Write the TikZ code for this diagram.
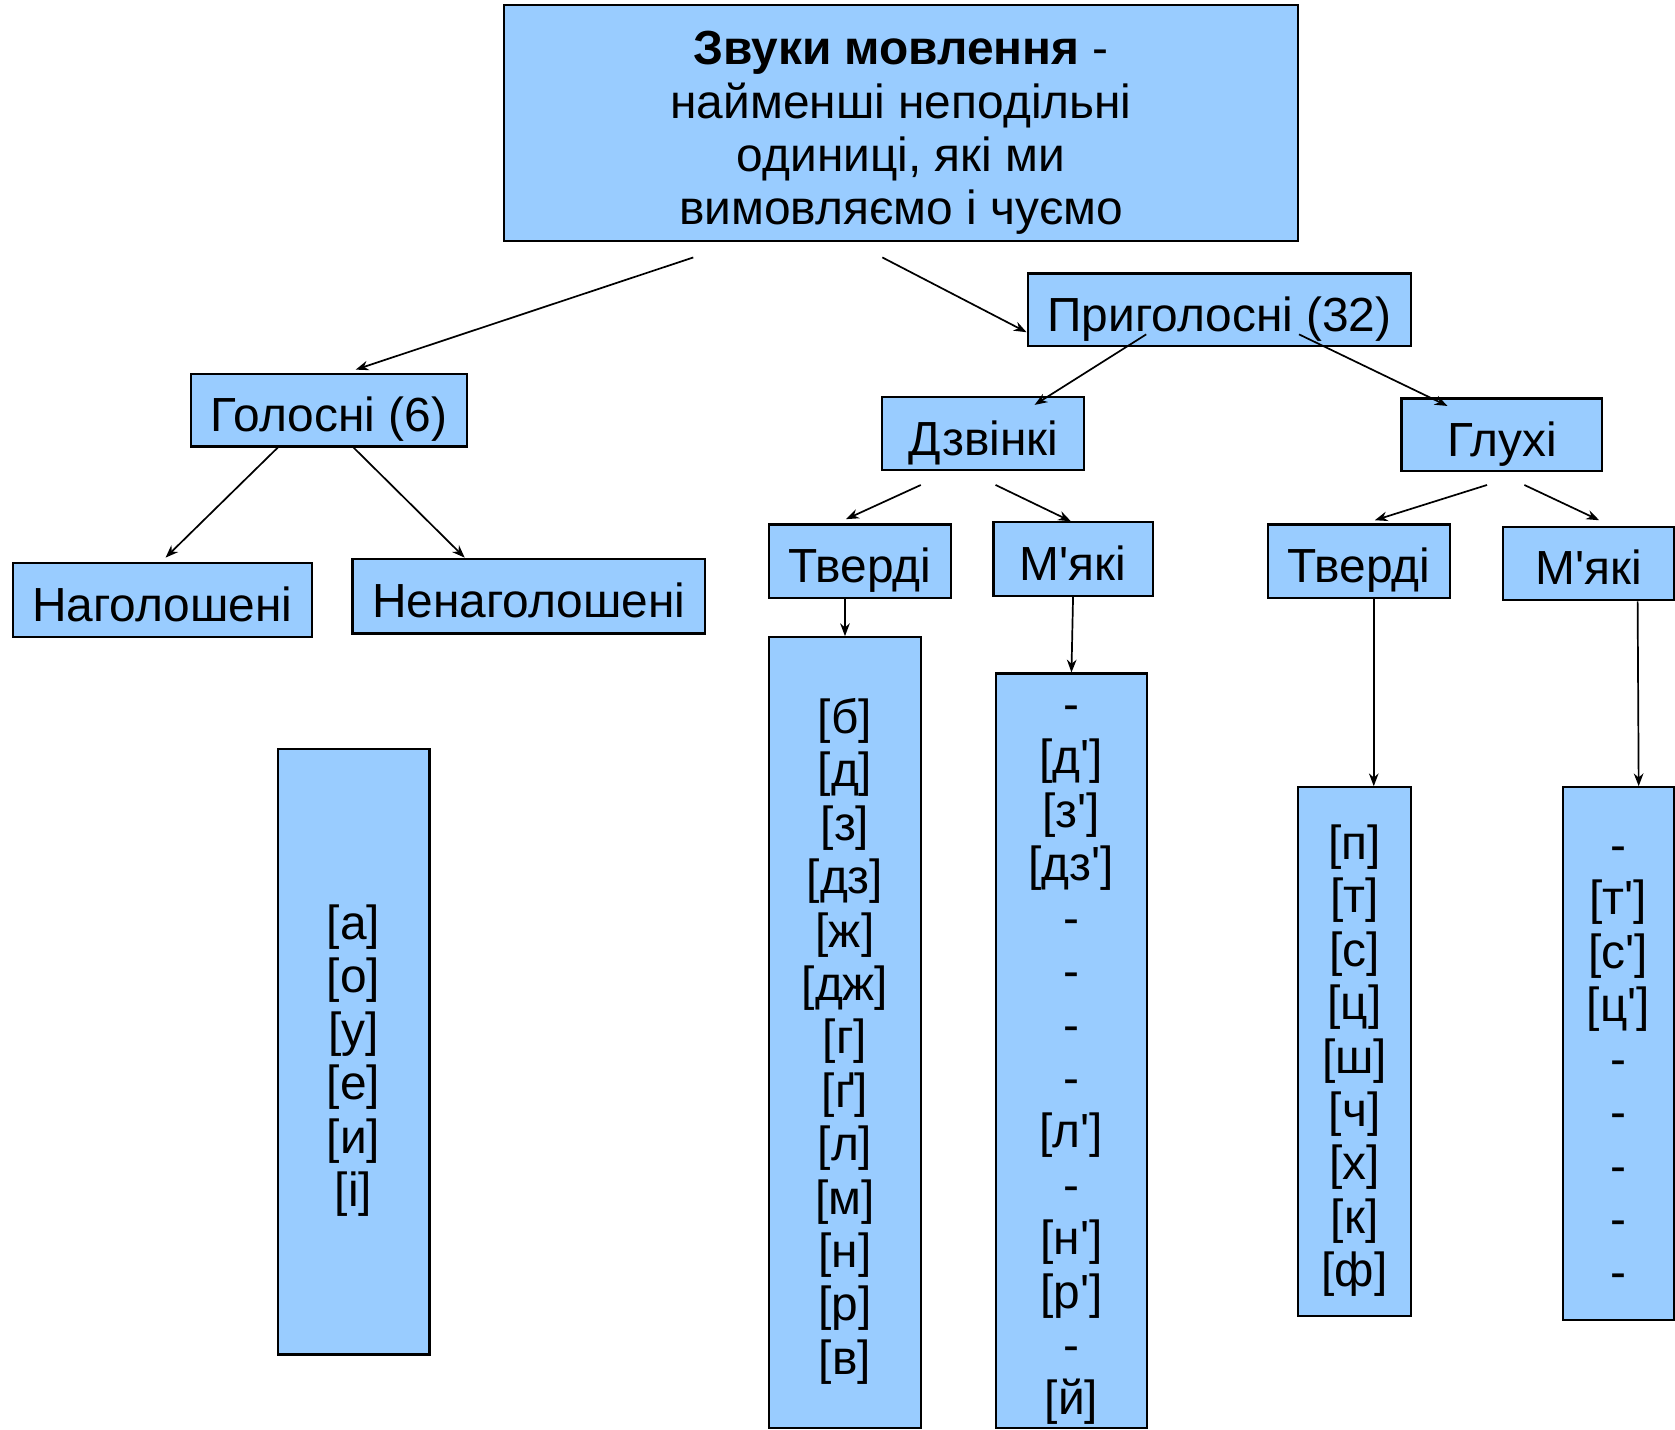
\documentclass[tikz,border=0pt]{standalone}
\usepackage{fontspec}
\setmainfont{Liberation Sans}[Ligatures=TeXOff]
\usetikzlibrary{arrows.meta}
\definecolor{boxblue}{HTML}{99CCFF}
\newcommand{\liststrut}{\rule{0pt}{26pt}}

\begin{document}
\begin{tikzpicture}[x=0.5pt,y=-0.5pt,
  box/.style={draw,fill=boxblue,line width=1pt,inner sep=0pt,align=center,
    font=\fontsize{22.4pt}{25pt}\selectfont,
    execute at begin node={\liststrut},
    execute at end node={\rule[-6pt]{0pt}{6pt}}},
  arr/.style={-{Stealth[length=6pt,width=4.5pt]},line width=0.8pt}]
\useasboundingbox (0,0) rectangle (1568,1338);
% top
\node (zv) [box,minimum width=371.5pt,minimum height=110.5pt] at (843.5,115.5)
  {\liststrut\textbf{Звуки мовлення} -\\найменші неподільні\\одиниці, які ми\\вимовляємо і чуємо};
% vowels
\node (hol) [box,minimum width=129pt,minimum height=34pt] at (308,384) {Голосні (6)};
\node (nag) [box,minimum width=140pt,minimum height=34.5pt] at (152,561.5) {Наголошені};
\node (nenag) [box,minimum width=165pt,minimum height=35pt] at (495,558) {Ненаголошені};
\node (vlist) [box,minimum width=71pt,minimum height=283.5pt] at (331,984.5)
  {\liststrut{[а]}\\{[о]}\\{[у]}\\{[е]}\\{[и]}\\{[і]}};
% consonants
\node (prig) [box,minimum width=179.5pt,minimum height=34pt] at (1141.5,290) {Приголосні (32)};
\node (dzv) [box,minimum width=94.5pt,minimum height=34pt] at (920.5,406) {Дзвінкі};
\node (hlu) [box,minimum width=94pt,minimum height=34pt] at (1406,407) {Глухі};
\node (dtv) [box,minimum width=85pt,minimum height=34.5pt] at (805,525.5) {Тверді};
\node (dmk) [box,minimum width=74.5pt,minimum height=34.5pt] at (1004.5,523.5) {М'які};
\node (htv) [box,minimum width=85pt,minimum height=34.5pt] at (1272,525.5) {Тверді};
\node (hmk) [box,minimum width=80pt,minimum height=34.5pt] at (1487,527.5) {М'які};
\node (dtvl) [box,minimum width=71pt,minimum height=370pt] at (791,966.5)
  {\liststrut{[б]}\\{[д]}\\{[з]}\\{[дз]}\\{[ж]}\\{[дж]}\\{[г]}\\{[ґ]}\\{[л]}\\{[м]}\\{[н]}\\{[р]}\\{[в]}};
\node (dmkl) [box,minimum width=71pt,minimum height=353pt] at (1003,983.5)
  {\rule{0pt}{22pt}-\\{[д']}\\{[з']}\\{[дз']}\\-\\-\\-\\-\\{[л']}\\-\\{[н']}\\{[р']}\\-\\{[й]}};
\node (htvl) [box,minimum width=53pt,minimum height=247.5pt] at (1268,984.5)
  {\liststrut{[п]}\\{[т]}\\{[с]}\\{[ц]}\\{[ш]}\\{[ч]}\\{[х]}\\{[к]}\\{[ф]}};
\node (hmkl) [box,minimum width=52pt,minimum height=249.5pt] at (1515,986.5)
  {\liststrut-\\{[т']}\\{[с']}\\{[ц']}\\-\\-\\-\\-\\-};
% free ends
\coordinate (z1) at (649,241);
\coordinate (z2) at (826,241);
\coordinate (p1) at (1073,313);
\coordinate (p2) at (1216,313);
\coordinate (d1) at (862,454);
\coordinate (d2) at (932,454);
\coordinate (g1) at (1392,454);
\coordinate (g2) at (1427,454);
% arrows
\draw[arr] (z1) -- ([xshift=12.5pt,yshift=1.5pt]hol.north);
\draw[arr] (z2) -- ([yshift=-10.5pt]prig.west);
\draw[arr] ([xshift=-24pt]hol.south) -- ([xshift=1.5pt,yshift=2pt]nag.north);
\draw[arr] ([xshift=11.5pt]hol.south) -- ([xshift=-30pt]nenag.north);
\draw[arr] (p1) -- ([xshift=24pt,yshift=-4pt]dzv.north);
\draw[arr] (p2) -- ([xshift=-25.5pt,yshift=-4pt]hlu.north);
\draw[arr] (d1) -- ([xshift=-6.5pt,yshift=2pt]dtv.north);
\draw[arr] (d2) -- ([xshift=-1pt]dmk.north);
\draw[arr] (g1) -- ([xshift=7.5pt,yshift=1.5pt]htv.north);
\draw[arr] (g2) -- ([xshift=5pt,yshift=2.5pt]hmk.north);
\draw[arr] ([xshift=-7pt]dtv.south) -- (dtvl.north);
\draw[arr] (dmk.south) -- (dmkl.north);
\draw[arr] ([xshift=7pt]htv.south) -- ([xshift=9pt]htvl.north);
\draw[arr] ([xshift=23pt]hmk.south) -- ([xshift=9.5pt]hmkl.north);
\end{tikzpicture}
\end{document}
